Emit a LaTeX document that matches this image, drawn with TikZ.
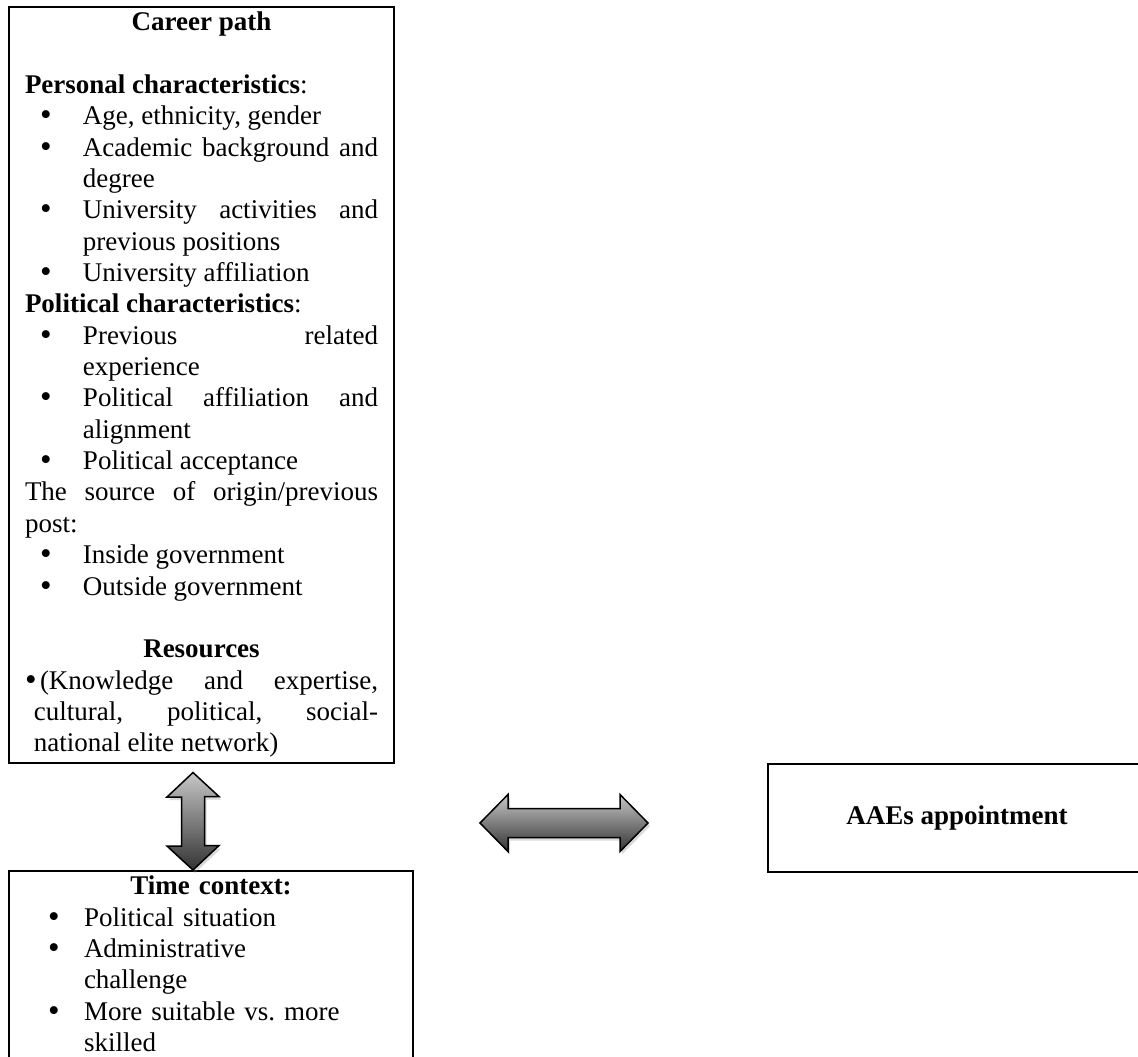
\documentclass[tikz,border=0pt]{standalone}
\usepackage{fontspec}
\setmainfont{Liberation Serif}
\usepackage{tikz}
\usetikzlibrary{shadows, positioning}

\frenchspacing
\newcommand{\bitem}[3]{\par\hangindent=#3\hangafter=1\noindent\makebox[#2][l]{\hspace{#1}\raisebox{-1pt}{\fontsize{33}{0}\selectfont\textbullet}}\ignorespaces}

\begin{document}
\begin{tikzpicture}[x=1pt, y=-1pt,
        box/.style={draw, line width=2pt, anchor=north west, inner xsep=16pt, inner ysep=5pt,
                    font=\fontsize{27}{31.35}\selectfont},
        blockarrow/.style={draw, line width=1.5pt, line join=miter, top color=black!22, bottom color=black!80,
                    drop shadow={opacity=0.3, shadow xshift=2pt, shadow yshift=-3pt}}]
        \useasboundingbox (0,0) rectangle (1138,1057);
        \node[box, text width=353pt, align=justify] (career) at (8,6) {
          {\centering\bfseries Career path\par}
          \vspace{\baselineskip}
          \noindent\textbf{Personal characteristics}:\par
          \bitem{15pt}{58pt}{58pt} Age, ethnicity, gender\par
          \bitem{15pt}{58pt}{58pt} Academic background and\linebreak degree\par
          \bitem{15pt}{58pt}{58pt} University activities and\linebreak previous positions\par
          \bitem{15pt}{58pt}{58pt} University affiliation\par
          \noindent\textbf{Political characteristics}:\par
          \bitem{15pt}{58pt}{58pt} Previous related\linebreak experience\par
          \bitem{15pt}{58pt}{58pt} Political affiliation and\linebreak alignment\par
          \bitem{15pt}{58pt}{58pt} Political acceptance\par
          \noindent The source of origin/previous\linebreak post:\par
          \bitem{15pt}{58pt}{58pt} Inside government\par
          \bitem{15pt}{58pt}{58pt} Outside government\par
          \vspace{\baselineskip}
          {\centering\bfseries Resources\par}
          \bitem{0pt}{15pt}{9pt} (Knowledge and expertise,\linebreak cultural, political, social-\linebreak national elite network)\par
        };
        \node[box, text width=372pt, align=left] (time_ctx) at (8,870) {
          {\centering\bfseries Time context:\par}
          \bitem{23pt}{59pt}{59pt} Political situation\par
          \bitem{23pt}{59pt}{59pt} Administrative\newline challenge\par
          \bitem{23pt}{59pt}{59pt} More suitable vs. more\newline skilled\strut\par
        };
        \node[box, minimum width=378pt, minimum height=108pt, inner xsep=0pt] (aaes) at (767,763)
          {\textbf{AAEs appointment}};
        \coordinate (v_top)   at ([xshift=-8.5pt, yshift=-9pt]career.south);
        \coordinate (v_bot)   at (v_top |- time_ctx.north);
        \coordinate (h_right) at ([xshift=-119pt, yshift=-5pt]aaes.west);
        \coordinate (h_left)  at ([xshift=-168pt]h_right);
        \draw[blockarrow] (v_top) -- ++(26,24) -- ++(-14.5,0) -- ++(0,49) -- ++(14.5,0)
          -- (v_bot) -- ++(-26,-24) -- ++(14.5,0) -- ++(0,-49) -- ++(-14.5,0) -- cycle;
        \draw[blockarrow] (h_left) -- ++(28,-28.5) -- ++(0,14) -- ++(112,0) -- ++(0,-14)
          -- (h_right) -- ++(-28,28.5) -- ++(0,-14) -- ++(-112,0) -- ++(0,14) -- cycle;
      \end{tikzpicture}
\end{document}
